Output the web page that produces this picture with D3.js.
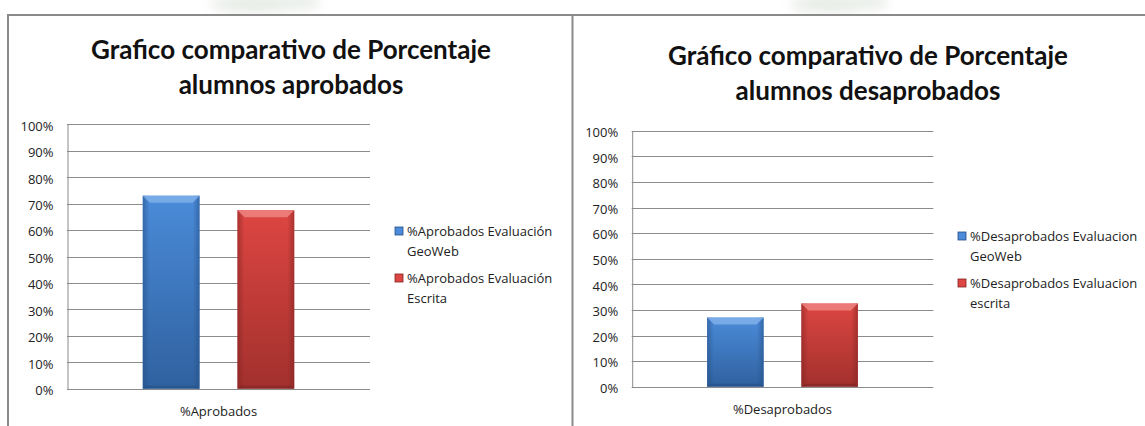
<!DOCTYPE html>
<html>
<head>
<meta charset="utf-8">
<script src="https://cdn.jsdelivr.net/npm/d3@7"></script>
<style>
  html, body { margin: 0; padding: 0; background: #fff; }
  svg { display: block; }
</style>
</head>
<body>
<svg id="chart" width="1145" height="426"></svg>
<script>
// ---- data ----
const tickValues = [0, 0.1, 0.2, 0.3, 0.4, 0.5, 0.6, 0.7, 0.8, 0.9, 1.0];

const aprobCategories = ["%Aprobados"];
const aprobSeries = ["%Aprobados Evaluación GeoWeb", "%Aprobados Evaluación Escrita"];
const aprobValues = [0.73, 0.675];
const aprobTitle = ["Grafico comparativo de Porcentaje", "alumnos aprobados"];

const desaCategories = ["%Desaprobados"];
const desaSeries = ["%Desaprobados Evaluacion GeoWeb", "%Desaprobados Evaluacion escrita"];
const desaValues = [0.27, 0.325];
const desaTitle = ["Gráfico comparativo de Porcentaje", "alumnos desaprobados"];

const seriesColors = [
  { top: "#4b8bd9", bottom: "#2f619f", light: "#7fb0ea", dark: "#244f86" },
  { top: "#dd4642", bottom: "#a2302d", light: "#ee8480", dark: "#7f2422" }
];

const svg = d3.select("#chart");
const defs = svg.append("defs");

// vertical gradients for the bevelled bars
seriesColors.forEach((c, i) => {
  const g = defs.append("linearGradient").attr("id", "barGrad" + i)
    .attr("x1", 0).attr("y1", 0).attr("x2", 0).attr("y2", 1);
  g.append("stop").attr("offset", "0%").attr("stop-color", c.top);
  g.append("stop").attr("offset", "100%").attr("stop-color", c.bottom);
  const s = defs.append("linearGradient").attr("id", "sideGrad" + i)
    .attr("x1", 0).attr("y1", 0).attr("x2", 1).attr("y2", 0);
  s.append("stop").attr("offset", "0%").attr("stop-color", c.dark).attr("stop-opacity", 0.55);
  s.append("stop").attr("offset", "12%").attr("stop-color", c.dark).attr("stop-opacity", 0);
  s.append("stop").attr("offset", "88%").attr("stop-color", c.dark).attr("stop-opacity", 0);
  s.append("stop").attr("offset", "100%").attr("stop-color", c.dark).attr("stop-opacity", 0.55);
});
defs.append("filter").attr("id", "soft").append("feGaussianBlur").attr("stdDeviation", 6);

// faint letterhead watermark peeking above the frames
svg.append("g").attr("filter", "url(#soft)").attr("opacity", 0.45)
  .selectAll("ellipse")
  .data([[255, 4, 45, 10], [300, 2, 20, 8], [830, 4, 40, 10], [870, 2, 18, 8]])
  .join("ellipse")
  .attr("cx", d => d[0]).attr("cy", d => d[1])
  .attr("rx", d => d[2]).attr("ry", d => d[3])
  .attr("fill", "#cfd8cc");

// chart frames
const frame = svg.append("g").attr("stroke", "#8a8a8a").attr("stroke-width", 2).attr("fill", "none");
frame.append("path").attr("d", "M8,430 V15 H1150");
frame.append("path").attr("d", "M572.5,15 V430");

function drawChart(opt) {
  const g = svg.append("g");

  // title, two centred lines
  opt.title.forEach((line, i) => {
    g.append("text")
      .attr("x", opt.titleX).attr("y", opt.titleY + i * 35)
      .attr("text-anchor", "middle")
      .attr("font-family", "Lato, 'Open Sans', sans-serif")
      .attr("font-weight", 700)
      .attr("font-size", 26)
      .attr("fill", "#111")
      .text(line);
  });

  const y = d3.scaleLinear().domain([0, 1]).range([opt.bottom, opt.top]);
  const x0 = d3.scaleBand().domain(opt.categories).range([opt.left, opt.right]).padding(0);
  const bw = x0.bandwidth();
  const x1 = d3.scaleBand().domain(opt.series)
    .range([bw * 0.25, bw * 0.75]).paddingInner(0.4).paddingOuter(0);

  // horizontal grid lines
  g.append("g").selectAll("line").data(tickValues).join("line")
    .attr("x1", opt.left).attr("x2", opt.right)
    .attr("y1", d => Math.round(y(d)) + 0.5).attr("y2", d => Math.round(y(d)) + 0.5)
    .attr("stroke", "#8c8c8c").attr("stroke-width", 1);

  // value axis
  const yAxis = d3.axisLeft(y).tickValues(tickValues)
    .tickFormat(d3.format(".0%")).tickSize(0).tickPadding(14);
  const ya = g.append("g").attr("transform", `translate(${opt.left + 0.5},0)`).call(yAxis);
  ya.select(".domain").attr("stroke", "#8c8c8c");
  ya.selectAll("text").attr("font-family", "'Open Sans', sans-serif")
    .attr("font-size", 13).attr("fill", "#222").attr("dy", "0.45em");

  // category axis label
  const xAxis = d3.axisBottom(x0).tickSize(0).tickPadding(18);
  const xa = g.append("g").attr("transform", `translate(0,${opt.bottom})`).call(xAxis);
  xa.select(".domain").remove();
  xa.selectAll("text").attr("font-family", "'Open Sans', sans-serif")
    .attr("font-size", 13).attr("fill", "#222");

  // bevelled bars
  const bars = g.append("g").selectAll("g")
    .data(opt.values.map((v, i) => ({ v, i, s: opt.series[i], c: opt.categories[0] })))
    .join("g")
    .attr("transform", d => `translate(${x0(d.c) + x1(d.s)},0)`);
  const w = x1.bandwidth();
  bars.append("rect").attr("x", 0).attr("y", d => y(d.v)).attr("width", w)
    .attr("height", d => y(0) - y(d.v)).attr("fill", d => `url(#barGrad${d.i})`);
  bars.append("rect").attr("x", 0).attr("y", d => y(d.v)).attr("width", w)
    .attr("height", d => y(0) - y(d.v)).attr("fill", d => `url(#sideGrad${d.i})`);
  const bev = 7;
  bars.append("path")
    .attr("d", d => `M0,${y(d.v)} H${w} L${w - bev},${y(d.v) + bev} H${bev} Z`)
    .attr("fill", d => seriesColors[d.i].light).attr("opacity", 0.85);
  bars.append("path")
    .attr("d", d => `M0,${y(0)} H${w} L${w - 3},${y(0) - 3} H3 Z`)
    .attr("fill", d => seriesColors[d.i].dark).attr("opacity", 0.6);

  // legend
  const lg = g.append("g").attr("transform", `translate(${opt.legendX},${opt.legendY})`);
  const items = lg.selectAll("g").data(opt.series).join("g")
    .attr("transform", (d, i) => `translate(0,${i * 47})`);
  items.append("rect").attr("x", 0).attr("y", -4).attr("width", 8).attr("height", 8)
    .attr("fill", (d, i) => seriesColors[i].top)
    .attr("stroke", (d, i) => seriesColors[i].dark).attr("stroke-width", 0.8);
  items.each(function(d) {
    const words = d.split(" ");
    const last = words.pop();
    const t = d3.select(this).append("text")
      .attr("font-family", "'Open Sans', sans-serif").attr("font-size", 13).attr("fill", "#222");
    t.append("tspan").attr("x", 12).attr("y", 5).text(words.join(" "));
    t.append("tspan").attr("x", 12).attr("y", 25).text(last);
  });
}

drawChart({
  title: aprobTitle, titleX: 291, titleY: 59,
  categories: aprobCategories, series: aprobSeries, values: aprobValues,
  left: 67, right: 370, top: 124.3, bottom: 388.7,
  legendX: 395, legendY: 231
});

drawChart({
  title: desaTitle, titleX: 868, titleY: 65,
  categories: desaCategories, series: desaSeries, values: desaValues,
  left: 631.7, right: 933.3, top: 130.7, bottom: 386.7,
  legendX: 958, legendY: 236
});
</script>
</body>
</html>
